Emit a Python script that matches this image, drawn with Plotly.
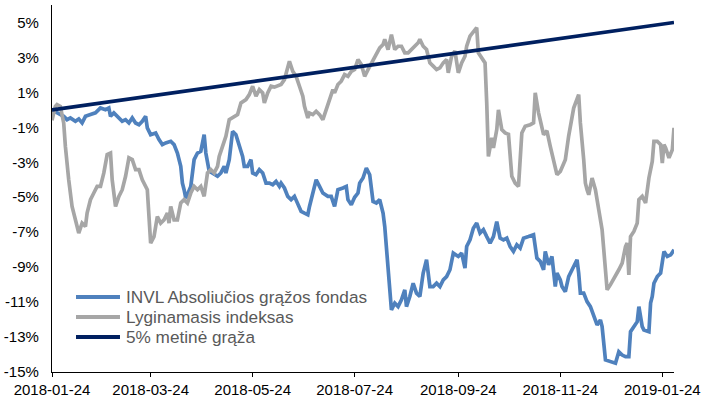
import pandas as pd
import plotly.graph_objects as go

START = "2018-01-24"

fund_name = "INVL Absoliučios grąžos fondas"
index_name = "Lyginamasis indeksas"
target_name = "5% metinė grąža"

# days since 2018-01-24, value in %
fund_days = [0, 7, 9, 11, 14, 16, 18, 20, 23, 26, 29, 32, 34, 35, 37, 39, 42, 44, 46, 48, 50, 52, 54, 56, 57, 59,
             62, 64, 66, 68, 71, 73, 75, 77, 78, 79, 80, 81, 83, 85, 87, 89, 91, 92, 94, 99, 101, 103, 104, 106, 108,
             110, 111, 113, 114, 115, 117, 119, 120, 122, 124, 126, 128, 130, 132, 134, 136, 137, 139, 141, 143, 145,
             147, 149, 151, 153, 154, 156, 158, 160, 162, 165, 167, 169, 171, 174, 176, 177, 179, 181, 183, 184, 186,
             188, 190, 192, 194, 196, 198, 199, 201, 203, 205, 207, 209, 211, 212, 214, 216, 218, 220, 222, 224, 226,
             228, 230, 232, 234, 236, 238, 240, 243, 245, 247, 248, 250, 252, 254, 256, 258, 260, 262, 264, 266, 268,
             270, 272, 274, 276, 278, 280, 282, 285, 288, 289, 290, 292, 294, 295, 297, 299, 300, 301, 302, 304, 305,
             307, 309, 311, 314, 315, 316, 318, 320, 322, 324, 326, 328, 329, 331, 334, 337, 339, 341, 343, 345, 346,
             348, 350, 351, 353, 354, 357, 358, 359, 360, 362, 364, 366, 368, 370, 372]
fund_values = [0.0, -0.37, -0.56, -0.46, -0.65, -0.52, -0.75, -0.37, -0.27, -0.17, 0.11, 0.01, 0.11, -0.37, -0.17,
               -0.37, -0.65, -0.56, -0.75, -0.46, -0.75, -0.85, -0.65, -0.37, -1.03, -1.42, -1.32, -1.70, -1.99,
               -1.89, -1.80, -1.99, -2.47, -3.23, -4.19, -4.57, -5.05, -4.86, -4.38, -2.85, -2.47, -2.37, -1.42,
               -2.47, -3.50, -3.80, -3.61, -3.23, -3.61, -2.85, -1.23, -1.42, -1.70, -2.28, -2.66, -3.23, -3.23,
               -2.85, -3.61, -3.71, -3.42, -3.61, -4.19, -4.19, -4.28, -4.09, -4.38, -4.19, -4.47, -4.95, -5.14,
               -4.95, -5.33, -5.81, -5.91, -6.00, -5.53, -4.76, -4.00, -4.38, -4.76, -4.95, -4.95, -5.53, -4.57,
               -4.47, -4.38, -5.14, -5.43, -5.00, -4.76, -4.19, -3.90, -3.33, -3.71, -5.24, -5.33, -5.14, -5.91,
               -6.67, -9.15, -11.45, -11.06, -11.26, -10.87, -10.30, -11.26, -10.68, -9.92, -10.49, -10.68, -9.34,
               -8.58, -10.11, -10.11, -9.92, -10.11, -9.73, -9.54, -9.15, -8.20, -8.39, -8.20, -9.06, -7.82, -7.44,
               -6.77, -6.48, -7.05, -6.86, -7.25, -7.62, -7.25, -6.39, -7.34, -7.44, -7.34, -7.82, -8.10, -7.72,
               -7.91, -7.34, -7.25, -7.15, -7.82, -8.48, -8.67, -9.15, -8.10, -8.86, -8.39, -9.15, -10.11, -9.34,
               -9.73, -10.11, -10.40, -9.54, -9.15, -8.58, -9.34, -10.49, -10.49, -10.97, -11.26, -11.73, -12.31,
               -12.02, -12.40, -14.31, -14.41, -14.50, -13.84, -14.03, -14.12, -14.12, -12.69, -12.40, -12.12,
               -11.26, -12.40, -12.59, -12.69, -11.06, -10.68, -9.92, -9.54, -9.34, -8.10, -8.39, -8.30, -8.01]

index_days = [0, 2, 3, 5, 7, 8, 10, 12, 14, 16, 18, 20, 21, 23, 25, 27, 29, 31, 33, 35, 36, 38, 40, 42, 44, 46, 48,
              50, 52, 54, 57, 58, 59, 61, 63, 65, 67, 69, 70, 71, 73, 75, 77, 79, 81, 83, 85, 87, 89, 91, 93, 95, 97,
              99, 100, 102, 104, 106, 109, 111, 113, 116, 118, 120, 122, 124, 126, 127, 129,
              131, 133, 135, 137, 139, 142, 144, 146, 148, 150, 151, 153, 154, 156, 158, 160, 162, 164, 166, 168,
              169, 171, 173, 175, 177, 179, 181, 183, 185, 187, 189, 191, 193,
              196, 198, 199, 201, 203, 205, 207, 209, 211, 213, 215, 217, 219, 220, 222, 224, 226, 228, 230, 232,
              234, 236, 237, 239, 241, 243, 245, 247, 248, 250, 252, 254, 255, 257, 259, 260, 261, 263, 264, 266,
              267, 269, 271, 273, 274, 275, 277, 279, 281, 283, 286, 288, 289, 291, 294, 296, 298, 300, 302, 304,
              307, 309, 310, 312, 315, 316, 318, 319, 320,
              321, 323, 325, 327, 329, 330, 331, 332, 334, 337, 339, 341, 343, 344, 345, 346, 348, 350, 351, 353,
              355, 357, 359, 360, 362, 364, 365, 366, 367, 369, 371, 372]
index_values = [-0.60, 0.20, 0.30, 0.20, -0.75, -2.09, -4.00, -5.53, -6.29, -7.05, -6.48, -6.67, -5.91, -5.14,
                -4.76, -4.38, -4.38, -3.61, -2.56, -2.47, -4.00, -5.53, -4.95, -4.57, -3.80, -2.75, -2.85, -3.42,
                -3.42, -4.00, -4.57, -6.29, -7.62, -7.25, -6.10, -6.48, -6.29, -5.91, -6.48, -5.53, -6.29, -6.29,
                -5.33, -5.14, -5.33, -4.76, -4.38, -4.57, -4.38, -4.95, -3.61, -3.42, -3.61, -3.23, -2.66, -2.09,
                -1.51, -0.56, -0.37, -0.27, 0.40, 0.59, 0.87, 1.35, 0.78, 1.16, 0.97, 0.40, 0.97,
                1.35, 1.30, 1.35, 1.45, 1.73, 2.78, 2.20, 1.92, 1.35, 0.78, 0.20, -0.46, -0.18, -0.27, -0.08, -0.27,
                -0.56, 0.01, 0.49, 1.16, 0.97, 1.45, 1.64, 2.02, 1.92, 2.20, 2.31, 2.88, 2.60, 1.92, 2.30, 2.69, 3.07,
                3.55, 3.74, 4.03, 3.45, 4.31, 3.45, 3.64, 3.64, 3.26, 3.26, 3.45, 3.64, 3.84, 4.03, 3.64, 3.45, 2.69,
                2.50, 2.31, 2.40, 2.69, 2.88, 2.12, 3.07, 3.36, 2.12, 2.69, 3.07, 3.64, 4.22, 4.50, 4.70, 3.26, 2.97,
                2.69, 0.40, -2.66, -1.60, -2.18, -1.13, 0.00, -1.13, -1.32, -1.40, -2.85, -3.80, -4.19, -4.38, -1.32,
                -0.94, -0.85, -0.75, 0.97, -0.17, -1.42, -1.20, -2.09, -2.90, -3.71, -3.52, -2.85, -1.50, -0.90, 0.10,
                0.87, -0.75, -2.85, -4.19, -4.57,
                -4.86, -3.90, -4.57, -5.72, -6.86, -8.00, -9.34, -10.30, -10.00, -9.54, -9.15, -8.77, -7.82, -7.63,
                -9.44, -7.25, -6.96, -6.48, -5.14, -4.95, -5.33, -3.90, -2.95, -1.80, -1.80, -1.99, -3.04, -1.99,
                -2.18, -2.75, -2.28, -1.03]

target_days = [0, 372]
target_values = [0.0, 5.0]

x_tick_labels = ["2018-01-24", "2018-03-24", "2018-05-24", "2018-07-24", "2018-09-24", "2018-11-24", "2019-01-24"]
y_tick_values = [5, 3, 1, -1, -3, -5, -7, -9, -11, -13, -15]
y_tick_labels = ["5%", "3%", "1%", "-1%", "-3%", "-5%", "-7%", "-9%", "-11%", "-13%", "-15%"]

names = [fund_name, index_name, target_name]
colors = ["#4F81BD", "#A6A6A6", "#002060"]

start = pd.Timestamp(START)


def to_dates(days):
    return start + pd.to_timedelta(days, unit="D")


FONT = "Liberation Sans, Arial, sans-serif"

fig = go.Figure()
for days, vals, name, col in zip([fund_days, index_days, target_days],
                                 [fund_values, index_values, target_values], names, colors):
    fig.add_trace(go.Scatter(x=to_dates(days), y=vals, mode="lines", name=name,
                             line=dict(color=col, width=3.7), showlegend=False))

# legend drawn as paper-anchored swatches + labels (layout, not data)
legend_rows = [0.2044, 0.1499, 0.0954]
for name, col, yr in zip(names, colors, legend_rows):
    fig.add_shape(type="line", xref="paper", yref="paper", x0=0.0386, x1=0.1093, y0=yr, y1=yr,
                  line=dict(color=col, width=4))
    fig.add_annotation(xref="paper", yref="paper", x=0.1174, y=yr, xanchor="left", yanchor="middle",
                       text=name, showarrow=False, font=dict(size=17.2, color="#595959"), borderpad=0)

fig.update_layout(
    width=703, height=400,
    margin=dict(l=52, r=29, t=5, b=28),
    paper_bgcolor="white", plot_bgcolor="white",
    font=dict(family=FONT, size=15, color="#000000"),
    showlegend=False,
    xaxis=dict(type="date", range=[start, to_dates([372])[0]], automargin=False,
               tickvals=list(pd.to_datetime(x_tick_labels)), ticktext=x_tick_labels,
               ticks="outside", ticklen=4, tickwidth=1.3, tickcolor="black",
               showline=True, linecolor="black", linewidth=1.3,
               showgrid=False, zeroline=False, ticklabelstandoff=0),
    yaxis=dict(range=[-15, 6], tickvals=y_tick_values, ticktext=y_tick_labels, automargin=False,
               ticks="", showline=True, linecolor="black", linewidth=1.3,
               showgrid=False, zeroline=False, ticklabelstandoff=9),
)

fig.write_html("out.html", config={"displayModeBar": False},
               post_script="document.body.style.margin='0';document.body.style.padding='0';")
